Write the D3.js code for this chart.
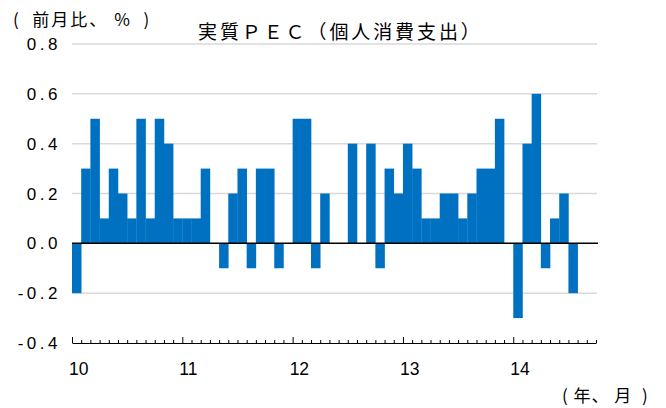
<!DOCTYPE html>
<html>

<head>
    <meta charset="UTF-8">
    <style>
        body { margin: 0; background: #fff; }
        text { font-family: "Liberation Sans", Arial, sans-serif; fill: #000; }
        .jp { font-family: "Noto Sans CJK JP", sans-serif; white-space: pre; }
    </style>
</head>

<body>
    <svg></svg>
    <script src="https://d3js.org/d3.v7.min.js"></script>
    <script>
        let width = 666,
            height = 408;

        // month-on-month change, %, Jan 2010 .. Sep 2014
        let years = ["10", "11", "12", "13", "14"];
        let values = [
            -0.2, 0.3, 0.5, 0.1, 0.3, 0.2, 0.1, 0.5, 0.1, 0.5, 0.4, 0.1,
            0.1, 0.1, 0.3, 0.0, -0.1, 0.2, 0.3, -0.1, 0.3, 0.3, -0.1, 0.0,
            0.5, 0.5, -0.1, 0.2, 0.0, 0.0, 0.4, 0.0, 0.4, -0.1, 0.3, 0.2,
            0.4, 0.3, 0.1, 0.1, 0.2, 0.2, 0.1, 0.2, 0.3, 0.3, 0.5, 0.0,
            -0.3, 0.4, 0.6, -0.1, 0.1, 0.2, -0.2, null, null
        ];
        let yTicks = [0.8, 0.6, 0.4, 0.2, 0.0, -0.2, -0.4];

        let data = values.map((v, i) => ({ i: i, v: v }));

        let svg = d3.select("svg")
            .attr("width", width)
            .attr("height", height);

        let x = d3.scaleBand()
            .domain(data.map(d => d.i))
            .range([72, 596])
            .padding(0);

        let xLin = d3.scaleLinear()
            .domain([0, values.length])
            .range([72, 596]);

        let y = d3.scaleLinear()
            .domain([-0.4, 0.8])
            .range([343, 44]);

        // gridlines
        svg.append("g")
            .selectAll("line")
            .data(yTicks.filter(t => t > -0.4 && t !== 0))
            .enter()
            .append("line")
            .attr("x1", 72)
            .attr("x2", 597)
            .attr("y1", d => y(d))
            .attr("y2", d => y(d))
            .attr("stroke", "#d9d9d9")
            .attr("stroke-width", 1.5);

        // bars
        svg.append("g")
            .selectAll("rect")
            .data(data.filter(d => d.v))
            .enter()
            .append("rect")
            .attr("x", d => x(d.i))
            .attr("width", x.bandwidth() + 0.3)
            .attr("y", d => y(Math.max(0, d.v)))
            .attr("height", d => Math.abs(y(d.v) - y(0)))
            .attr("fill", "#0070c0");

        // zero line
        svg.append("line")
            .attr("x1", 72)
            .attr("x2", 598)
            .attr("y1", y(0))
            .attr("y2", y(0))
            .attr("stroke", "#000")
            .attr("stroke-width", 1.5);

        // y labels
        svg.append("g")
            .selectAll("text")
            .data(yTicks)
            .enter()
            .append("text")
            .attr("x", 61)
            .attr("y", d => y(d))
            .attr("dy", "0.36em")
            .attr("text-anchor", "end")
            .style("font-size", "17px")
            .style("letter-spacing", "3.5px")
            .text(d => d.toFixed(1));

        // x axis with month ticks pointing up
        let monthTicks = d3.range(values.length + 1);
        let xAxis = svg.append("g")
            .attr("transform", "translate(0," + y(-0.4) + ")")
            .call(d3.axisBottom(xLin)
                .tickValues(monthTicks)
                .tickSize(-3)
                .tickSizeOuter(0)
                .tickFormat(""));
        xAxis.select(".domain").attr("stroke", "#000").attr("stroke-width", 1.2);
        xAxis.selectAll(".tick line")
            .attr("stroke", "#000")
            .attr("y2", d => d % 12 === 0 ? -6 : -3);

        svg.append("g")
            .selectAll("text")
            .data(years)
            .enter()
            .append("text")
            .attr("x", (d, i) => xLin(i * 12) - 3)
            .attr("y", 375)
            .style("font-size", "17.5px")
            .text(d => d);

        // titles
        svg.append("text")
            .attr("class", "jp")
            .attr("x", 13)
            .attr("y", 26)
            .style("font-size", "17px")
            .style("letter-spacing", "2px")
            .text("(  前月比、 %  )");

        svg.append("text")
            .attr("class", "jp")
            .attr("x", 198)
            .attr("y", 39)
            .style("font-size", "19px")
            .style("letter-spacing", "2.9px")
            .text("実質ＰＥＣ（個人消費支出）");

        svg.append("text")
            .attr("class", "jp")
            .attr("x", 562)
            .attr("y", 402)
            .style("font-size", "17px")
            .style("letter-spacing", "1px")
            .text("( 年、 月  )");
    </script>
</body>

</html>
